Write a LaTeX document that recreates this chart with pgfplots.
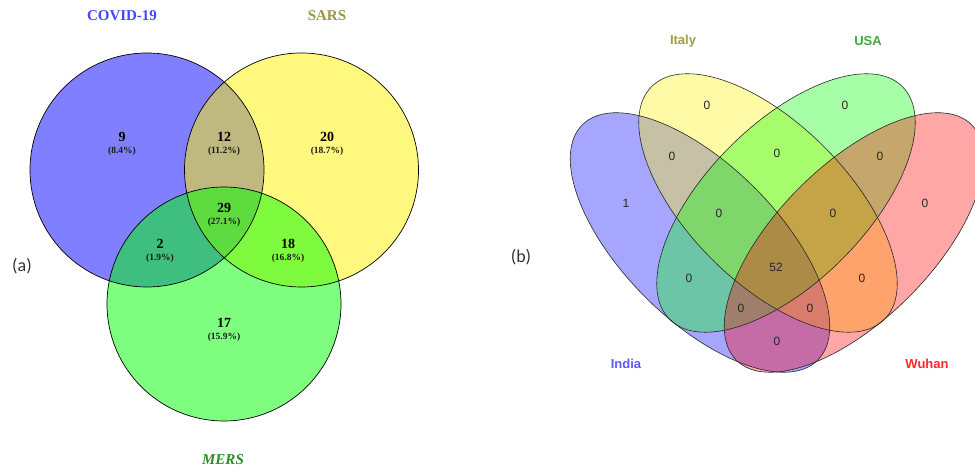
\documentclass[border=0pt]{standalone}
\usepackage{pgfplots}
\pgfplotsset{compat=1.18}
\usepackage{fontspec}
\setmainfont{Liberation Serif}
\newfontfamily\sansf{Liberation Sans}
\newfontfamily\carl{Carlito}
\definecolor{covid}{RGB}{70,70,255}
\definecolor{sars}{RGB}{150,150,70}
\definecolor{mers}{RGB}{40,140,40}
\definecolor{italy}{RGB}{160,160,60}
\definecolor{usa}{RGB}{60,170,60}
\definecolor{india}{RGB}{90,90,255}
\definecolor{wuhan}{RGB}{255,40,40}
\begin{document}
\begin{tikzpicture}
\begin{axis}[
  scale only axis, width=975pt, height=470pt,
  xmin=0, xmax=975, ymin=0, ymax=470, enlargelimits=false,
  axis lines=none, xtick=\empty, ytick=\empty, clip=true]
% ---------- (a) three-set Venn ----------
\fill[blue, opacity=0.5] (axis cs:147,300) circle [radius=117pt];
\fill[yellow, opacity=0.5] (axis cs:301.5,300) circle [radius=117pt];
\fill[green, opacity=0.5] (axis cs:224,166) circle [radius=117pt];
\draw[black, line width=0.7pt] (axis cs:147,300) circle [radius=117pt];
\draw[black, line width=0.7pt] (axis cs:301.5,300) circle [radius=117pt];
\draw[black, line width=0.7pt] (axis cs:224,166) circle [radius=117pt];
% ---------- (b) four-set Venn ----------
\fill[blue, opacity=0.35] (axis cs:700,227.5) ellipse [x radius=166.4pt, y radius=77.3pt, rotate=135];
\fill[yellow, opacity=0.35] (axis cs:768,267) ellipse [x radius=164.6pt, y radius=79.4pt, rotate=135];
\fill[green, opacity=0.35] (axis cs:786,267) ellipse [x radius=164.6pt, y radius=79.4pt, rotate=45];
\fill[red, opacity=0.35] (axis cs:854,227.5) ellipse [x radius=166.4pt, y radius=77.3pt, rotate=45];
\draw[black!85, line width=0.6pt] (axis cs:700,227.5) ellipse [x radius=166.4pt, y radius=77.3pt, rotate=135];
\draw[black!85, line width=0.6pt] (axis cs:768,267) ellipse [x radius=164.6pt, y radius=79.4pt, rotate=135];
\draw[black!85, line width=0.6pt] (axis cs:786,267) ellipse [x radius=164.6pt, y radius=79.4pt, rotate=45];
\draw[black!85, line width=0.6pt] (axis cs:854,227.5) ellipse [x radius=166.4pt, y radius=77.3pt, rotate=45];
\end{axis}
% ---------- labels (a) ----------
\begin{scope}[x=1pt,y=1pt]
\node[covid, font=\fontsize{15}{17}\selectfont\bfseries] at (122,454) {COVID-19};
\node[sars, font=\fontsize{15}{17}\selectfont\bfseries] at (327,454) {SARS};
\node[mers, font=\fontsize{15}{17}\selectfont\bfseries\itshape] at (223,10) {MERS};
\node[black!80, font=\fontsize{18}{20}\selectfont\carl] at (22,204) {(a)};
\foreach \x/\y/\n/\p in {122/333/9/8.4, 224/333/12/11.2, 327/333/20/18.7, 224/262/29/27.1,
    160/226/2/1.9, 288/226/18/16.8, 224/147/17/15.9}{
  \node[font=\fontsize{14}{15}\selectfont\bfseries] at (\x,\y) {\n};
  \node[black!90, font=\fontsize{9.5}{10}\selectfont\bfseries] at (\x,\y-14) {(\p\%)};
}
% ---------- labels (b) ----------
\node[italy, font=\fontsize{13}{15}\selectfont\sansf\bfseries] at (683,429) {Italy};
\node[usa, font=\fontsize{13}{15}\selectfont\sansf\bfseries] at (868,429) {USA};
\node[india, font=\fontsize{13}{15}\selectfont\sansf\bfseries] at (626,106) {India};
\node[wuhan, font=\fontsize{13}{15}\selectfont\sansf\bfseries] at (927,106) {Wuhan};
\node[black!80, font=\fontsize{18}{20}\selectfont\carl] at (521,213) {(b)};
\foreach \x/\y/\n in {707/365/0, 845/365/0, 672/314/0, 777/317/0, 880/314/0, 626/267/1,
    925/267/0, 719/257/0, 833/257/0, 776/203/52, 689/192/0, 862/192/0, 741/162/0,
    810/162/0, 777/129/0}{
  \node[black!85, font=\fontsize{12}{13}\selectfont\sansf] at (\x,\y) {\n};
}
\end{scope}
\pgfresetboundingbox
\path (0pt,0pt) rectangle (975pt,470pt);
\end{tikzpicture}
\end{document}
